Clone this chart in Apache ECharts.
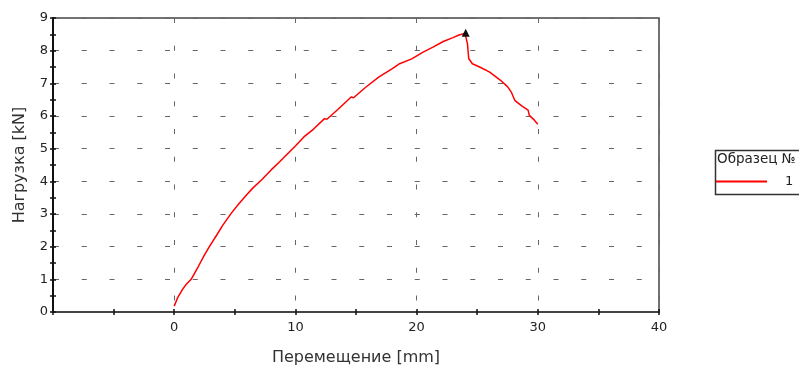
<!DOCTYPE html>
<html>
<head>
<meta charset="utf-8">
<script src="https://cdn.jsdelivr.net/npm/echarts@6/dist/echarts.min.js"></script>
<style>html,body{margin:0;padding:0;background:#fff}#c{width:799px;height:369px}</style>
</head>
<body>
<div id="c"></div>
<script>
const seriesName = '1';
const legendTitle = 'Образец №';
const xAxisName = 'Перемещение [mm]';
const yAxisName = 'Нагрузка [kN]';
const displacement = [0, 0.3, 0.7, 1.0, 1.4, 2.0, 2.5, 2.9, 3.5, 4.0, 4.7, 5.3, 6.0, 6.5, 7.2, 8.0, 8.7, 9.5, 10.0, 10.7, 11.5, 12.4, 12.6, 13.5, 14.6, 14.8, 15.8, 16.9, 18.0, 18.6, 19.6, 20.5, 21.35, 22.2, 23.0, 23.5, 24.0, 24.15, 24.2, 24.3, 24.6, 25.2, 26.0, 26.9, 27.5, 27.8, 28.1, 28.7, 29.2, 29.3, 29.7, 30.0];
const load = [0.18, 0.45, 0.7, 0.85, 1.0, 1.4, 1.75, 2.0, 2.35, 2.65, 3.02, 3.3, 3.6, 3.8, 4.04, 4.35, 4.6, 4.9, 5.08, 5.36, 5.6, 5.92, 5.9, 6.2, 6.58, 6.56, 6.88, 7.2, 7.45, 7.6, 7.75, 7.95, 8.11, 8.28, 8.4, 8.48, 8.53, 8.52, 8.2, 7.76, 7.6, 7.5, 7.35, 7.1, 6.9, 6.74, 6.48, 6.3, 6.18, 6.02, 5.88, 5.75];
const peakPoint = [24.05, 8.55];
const xTicks = [-10, 0, 10, 20, 30, 40];
const yTicks = [0, 1, 2, 3, 4, 5, 6, 7, 8, 9];

const data = displacement.map((x, i) => [x, load[i]]);
const font = 'DejaVu Sans';
const xMin = xTicks[0], xMax = xTicks[xTicks.length - 1];
const yMin = yTicks[0], yMax = yTicks[yTicks.length - 1];

const baseX = {
  type: 'value', min: xMin, max: xMax, interval: 10, position: 'bottom',
  axisLine: { show: true, onZero: false, lineStyle: { color: '#444', width: 2 } },
  minorTick: { show: true, splitNumber: 2, length: 3, lineStyle: { color: '#111', width: 1.5 } },
  axisTick: { show: true, length: 3, lineStyle: { color: '#111', width: 1.5 } },
  splitLine: { show: false }
};
const baseY = {
  type: 'value', min: yMin, max: yMax, interval: 1, position: 'left',
  axisLine: { show: true, onZero: false, lineStyle: { color: '#111', width: 2 } },
  minorTick: { show: true, splitNumber: 2, length: 3, lineStyle: { color: '#111', width: 1.5 } },
  axisTick: { show: true, length: 3, lineStyle: { color: '#111', width: 1.5 } },
  splitLine: { show: false }
};

const option = {
  backgroundColor: '#fff',
  animation: false,
  grid: { left: 53, right: 140, top: 18, bottom: 57, show: true, borderColor: '#444', borderWidth: 1.5, backgroundColor: '#fff', containLabel: false, outerBoundsMode: 'none' },
  xAxis: [
    Object.assign({}, baseX, {
      name: xAxisName, nameLocation: 'middle', nameGap: 38,
      nameTextStyle: { fontFamily: font, fontSize: 16, color: '#333' },
      axisTick: Object.assign({}, baseX.axisTick, { inside: false }),
      minorTick: Object.assign({}, baseX.minorTick),
      axisLabel: { margin: 9, fontFamily: font, fontSize: 13, color: '#222',
        formatter: v => (v === xMin ? '' : String(v)) },
      splitLine: { show: true, lineStyle: { color: '#666', width: 1, type: [5, 22.75], dashOffset: 0 } }
    }),
    Object.assign({}, baseX, {
      axisTick: Object.assign({}, baseX.axisTick, { inside: true }),
      minorTick: Object.assign({}, baseX.minorTick),
      axisLabel: { show: false }
    })
  ],
  yAxis: [
    Object.assign({}, baseY, {
      name: yAxisName, nameLocation: 'middle', nameGap: 25,
      nameTextStyle: { fontFamily: font, fontSize: 16, color: '#333' },
      axisTick: Object.assign({}, baseY.axisTick, { inside: false }),
      axisLabel: { margin: 5, fontFamily: font, fontSize: 13, color: '#222' },
      splitLine: { show: true, lineStyle: { color: '#666', width: 1, type: [5, 22.75], dashOffset: -1 } }
    }),
    Object.assign({}, baseY, {
      axisTick: Object.assign({}, baseY.axisTick, { inside: true }),
      axisLabel: { show: false }
    })
  ],
  legend: {
    data: [seriesName], left: 716, top: 175, padding: 0,
    icon: 'rect', itemWidth: 51, itemHeight: 2,
    textStyle: { fontFamily: font, fontSize: 13, color: '#222', padding: [0, 0, 0, 13] }
  },
  graphic: [
    { type: 'rect', shape: { x: 715.5, y: 150.5, width: 120, height: 44 }, style: { fill: '#fff', stroke: '#333', lineWidth: 1.5 }, z: -1 },
    { type: 'text', left: 717, top: 152, style: { text: legendTitle, font: '13.5px "DejaVu Sans"', fill: '#222' } }
  ],
  series: [{
    name: seriesName, type: 'line', data: data, showSymbol: false, symbol: 'none',
    lineStyle: { color: '#ff0000', width: 1.5 }, itemStyle: { color: '#ff0000' },
    markPoint: {
      symbol: 'triangle', symbolSize: 8, label: { show: false },
      itemStyle: { color: '#111' },
      data: [{ coord: peakPoint }]
    }
  }]
};
const chart = echarts.init(document.getElementById('c'));
chart.setOption(option);
</script>
</body>
</html>
